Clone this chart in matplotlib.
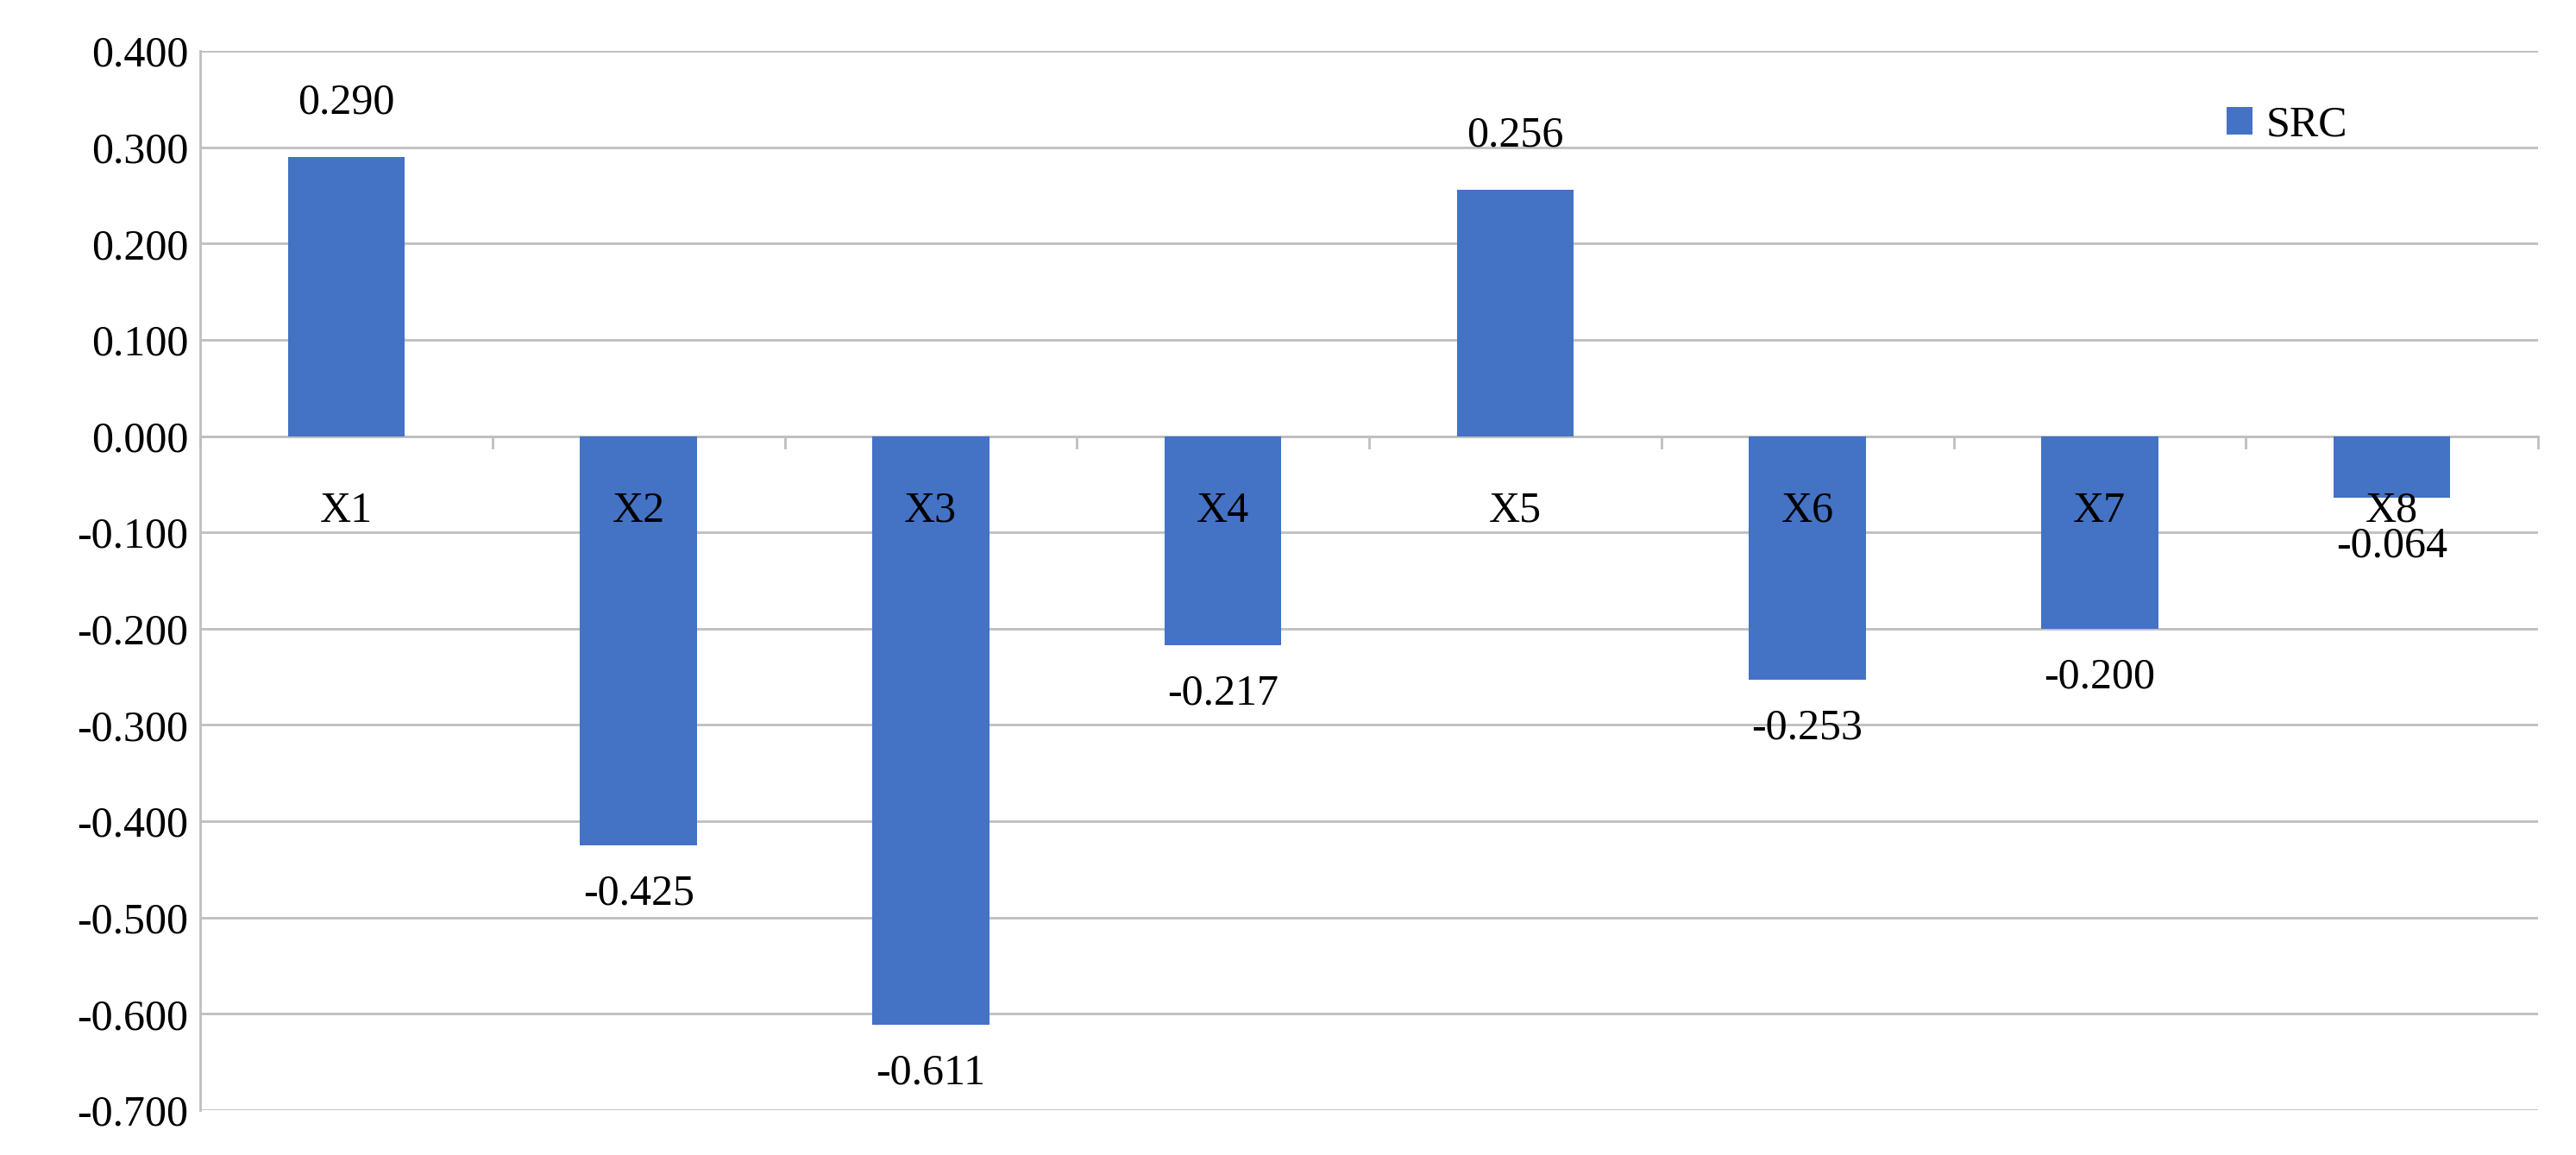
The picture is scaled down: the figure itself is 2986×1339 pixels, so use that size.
import matplotlib
matplotlib.use("Agg")
import matplotlib.pyplot as plt
import numpy as np

categories = ["X1","X2","X3","X4","X5","X6","X7","X8"]
values = [0.290,-0.425,-0.611,-0.217,0.256,-0.253,-0.200,-0.064]
yticks = [0.4,0.3,0.2,0.1,0.0,-0.1,-0.2,-0.3,-0.4,-0.5,-0.6,-0.7]

plt.rcParams['font.family'] = ['Liberation Serif','DejaVu Serif']
fs = 36
fig = plt.figure(figsize=(29.86,13.39), dpi=100)
ax = fig.add_axes([232/2986, 1-1287/1339, (2942-232)/2986, (1287-59)/1339])
x = np.arange(len(categories))
color = '#4472C4'
ax.bar(x, values, width=0.4, color=color, label='SRC', zorder=3)
ax.set_xlim(-0.5, len(categories)-0.5)
ax.set_ylim(-0.7, 0.4)
ax.set_yticks(yticks)
ax.set_yticklabels([f"{t:.3f}" for t in yticks], fontsize=fs)
ax.yaxis.grid(True, color='#BFBFBF', linewidth=2, zorder=0)
ax.tick_params(axis='y', length=0, pad=10)
ax.set_xticks([])
for s in ['top','right','bottom']:
    ax.spines[s].set_visible(False)
ax.spines['left'].set_color('#BFBFBF'); ax.spines['left'].set_linewidth(2)
ax.axhline(0, color='#BFBFBF', linewidth=2, zorder=2)
for b in np.arange(-0.5, len(categories)):
    ax.plot([b,b],[0,-0.012], color='#BFBFBF', linewidth=2, clip_on=False, zorder=2)
for xi, c, v in zip(x, categories, values):
    ax.text(xi, -0.078, c, ha='center', va='center', fontsize=fs, zorder=4)
    if v >= 0:
        ax.text(xi, v+0.035, f"{v:.3f}", ha='center', va='bottom', fontsize=fs)
    else:
        ax.text(xi, v-0.03, f"{v:.3f}", ha='center', va='top', fontsize=fs)
ax.legend(loc='upper right', bbox_to_anchor=(0.935, 0.985), frameon=False, fontsize=fs,
          handlelength=0.6, handleheight=0.6, handletextpad=0.3)
fig.savefig("out.png", dpi=100)
